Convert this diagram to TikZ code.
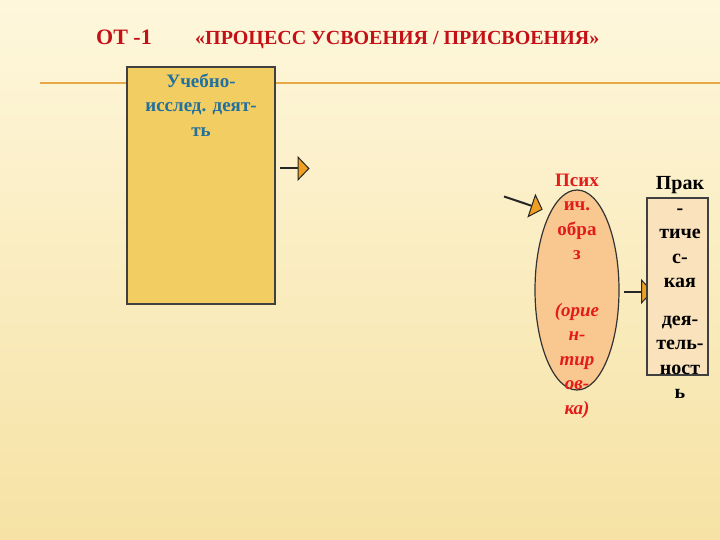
\documentclass[tikz,border=0pt]{standalone}
\usepackage{fontspec}
\setmainfont{Liberation Serif}
\usetikzlibrary{arrows.meta,shapes.geometric}
\definecolor{bgtop}{HTML}{FEF7DC}
\definecolor{bgbot}{HTML}{F6E2A4}
\definecolor{rule}{HTML}{E8A848}
\definecolor{titlered}{HTML}{C41017}
\definecolor{ellred}{HTML}{E31B1B}
\definecolor{boxone}{HTML}{F2CD62}
\definecolor{boxthree}{HTML}{FAE2BC}
\definecolor{ellfill}{HTML}{F8C890}
\definecolor{bluetext}{HTML}{21709E}
\definecolor{tipor}{HTML}{F0A020}
\begin{document}
\begin{tikzpicture}[x=1pt,y=-1pt,
  frame/.style={draw=black!75, line width=1.4pt, inner sep=0pt},
  arr/.style={draw=black!85, line width=2pt,
    -{Triangle[length=12pt,width=25pt,fill=tipor,line width=1pt]}},
  txt/.style={inner sep=0pt, align=center, font=\bfseries\fontsize{19}{24.5}\selectfont},
  ttl/.style={inner sep=0pt, anchor=base west, text=titlered, font=\bfseries}
]
\useasboundingbox (0,0) rectangle (720,540);
\shade[top color=bgtop, bottom color=bgbot] (0,0) rectangle (720,540);

% title
\node[ttl, font=\bfseries\fontsize{22}{26}\selectfont] (t1) at (96,45) {ОТ -1};
\node[ttl, font=\bfseries\fontsize{20}{24}\selectfont] (t2) at (195,45) {«ПРОЦЕСС УСВОЕНИЯ / ПРИСВОЕНИЯ»};

% rule
\coordinate (r1) at (40,83);
\coordinate (r2) at (720,83);
\draw[rule, line width=2pt] (r1) -- (r2);

% box 1
\node[frame, fill=boxone, minimum width=148pt, minimum height=237pt] (b1) at (201,185.5) {};
\node[txt, anchor=north, text=bluetext] (b1t) at (201,73.5) {Учебно-\\исслед. деят-\\ть};

% arrow 1
\coordinate (a1s) at (280,168.5);
\coordinate (a1e) at (309.5,168.5);
\draw[arr] (a1s) -- (a1e);

% ellipse
\node[ellipse, draw=black!80, line width=1.2pt, fill=ellfill, minimum width=84pt, minimum height=200pt, inner sep=0pt] (el) at (577,290) {};
\node[txt, anchor=north, text=ellred] (elt) at (577,173.5)
  {Псих\\ич.\\обра\\з\\[32pt]\textit{(орие}\\\textit{н-}\\\textit{тир}\\\textit{ов-}\\\textit{ка)}};

% arrow 2
\coordinate (a2s) at (504,196.5);
\coordinate (a2e) at (542.7,209.5);
\draw[arr] (a2s) -- (a2e);

% arrow 3
\coordinate (a3s) at (624,291.5);
\coordinate (a3e) at (653,291.5);
\draw[arr] (a3s) -- (a3e);

% box 3
\node[frame, fill=boxthree, minimum width=61pt, minimum height=177pt] (b3) at (677.5,286.5) {};
\node[txt, anchor=north, text=black, font=\bfseries\fontsize{20}{24.5}\selectfont] (b3t) at (680,176.5)
  {Прак\\-\\тиче\\с-\\кая\\[13pt]дея-\\тель-\\ност\\ь};
\end{tikzpicture}
\end{document}
